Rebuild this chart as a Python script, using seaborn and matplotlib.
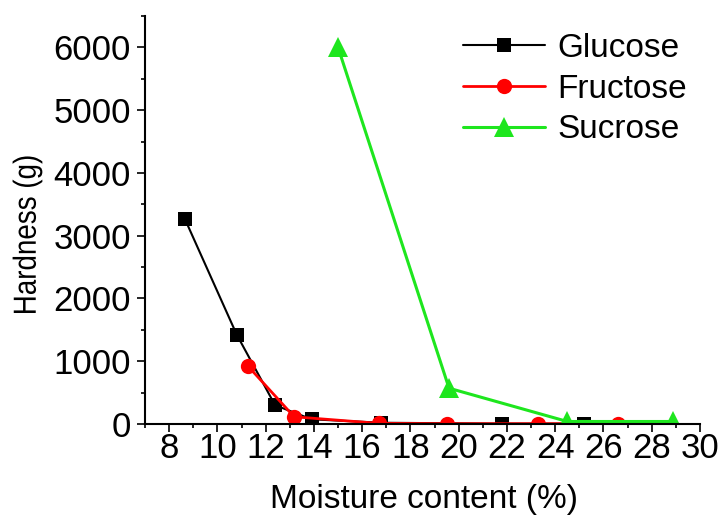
import matplotlib
matplotlib.use("Agg")
import matplotlib.pyplot as plt
import numpy as np
import pandas as pd
import seaborn as sns
from matplotlib.ticker import MultipleLocator
from matplotlib.patheffects import AbstractPathEffect
from matplotlib.transforms import Affine2D

# Hardness vs moisture content for three sugars
glucose_x = [8.66, 10.8, 12.39, 13.9, 16.8, 21.8, 25.2]
glucose_y = [3260, 1425, 300, 75, 20, 5, 5]
fructose_x = [11.28, 13.18, 16.7, 19.5, 23.3, 26.6]
fructose_y = [917, 115, 10, 5, 5, 5]
sucrose_x = [15.0, 19.6, 24.5, 28.9]
sucrose_y = [6000, 570, 40, 40]

x_ticks = [8, 10, 12, 14, 16, 18, 20, 22, 24, 26, 28, 30]
y_ticks = [0, 1000, 2000, 3000, 4000, 5000, 6000]


class HStretch(AbstractPathEffect):
    """Widen glyphs horizontally about their own centre."""

    def __init__(self, sx=1.25):
        super().__init__()
        self.sx = sx

    def draw_path(self, renderer, gc, tpath, affine, rgbFace=None):
        bb = tpath.get_extents(affine)
        a = 0.5 * (bb.x0 + bb.x1)
        t = affine + Affine2D().translate(-a, 0).scale(self.sx, 1).translate(a, 0)
        renderer.draw_path(gc, tpath, t, rgbFace)


sns.set_style("ticks")
plt.rcParams["font.family"] = ["Liberation Sans", "DejaVu Sans"]
plt.rcParams.update({"text.color": "black", "axes.labelcolor": "black",
                     "xtick.color": "black", "ytick.color": "black"})

TICK_FS = 25
TEXT_FS = 24

fig = plt.figure(figsize=(7.23, 5.24), dpi=100)
ax = fig.add_axes([145 / 723, 100 / 524, 555 / 723, 408 / 524])

series = [
    ("Glucose", glucose_x, glucose_y, "black", "s", 10, 1.5),
    ("Fructose", fructose_x, fructose_y, "#ff0000", "o", 11, 2.0),
    ("Sucrose", sucrose_x, sucrose_y, "#1ee61e", "^", 14.5, 2.2),
]
for name, xs, ys, col, mk, ms, lw in series:
    df = pd.DataFrame({"x": xs, "y": ys})
    sns.lineplot(data=df, x="x", y="y", ax=ax, color=col, marker=mk,
                 markersize=ms, markeredgewidth=0, linewidth=lw, label=name,
                 sort=False, estimator=None)

ax.set_xlim(7, 30)
ax.set_ylim(0, 6500)
ax.set_xticks(x_ticks)
ax.set_yticks(y_ticks)
ax.xaxis.set_minor_locator(MultipleLocator(1))
ax.yaxis.set_minor_locator(MultipleLocator(500))
ax.tick_params(which="major", length=6, width=1.2, direction="out",
               labelsize=TICK_FS, colors="black")
ax.tick_params(axis="y", which="major", pad=4)
ax.tick_params(axis="x", which="major", pad=0)
ax.tick_params(which="minor", length=3, width=1.2, direction="out")
for sp in ["left", "bottom"]:
    ax.spines[sp].set_linewidth(1.5)
    ax.spines[sp].set_color("black")
sns.despine(ax=ax)

ax.set_xlabel("Moisture content (%)", fontsize=TEXT_FS, color="black")
ax.xaxis.set_label_coords(0.503, -0.147)
ax.set_ylabel("Hardness (g)", fontsize=20, color="black")
ax.yaxis.set_label_coords(-0.188, 0.463)
ax.yaxis.label.set_path_effects([HStretch(1.15)])

leg = ax.legend(loc="upper left", bbox_to_anchor=(463 / 723, 1 - 33 / 524),
                bbox_transform=fig.transFigure, frameon=False, fontsize=TEXT_FS,
                handlelength=2.46, handletextpad=0.36, labelspacing=0.29,
                borderpad=0, borderaxespad=0)
for t in leg.get_texts():
    t.set_color("black")

fig.savefig("out.png", dpi=100)
